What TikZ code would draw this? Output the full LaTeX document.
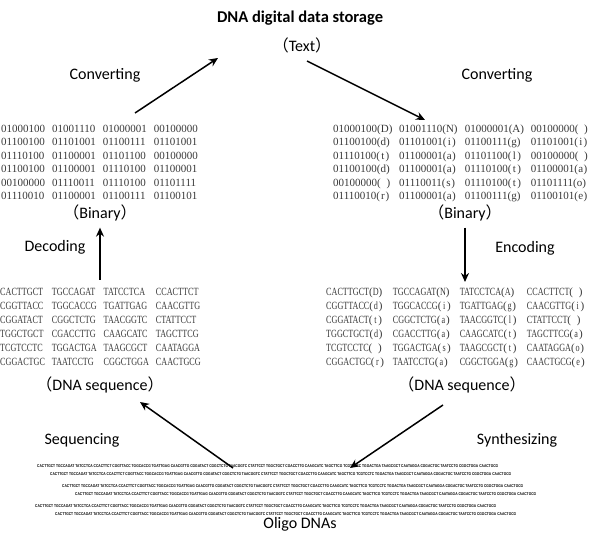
\documentclass[tikz,border=0pt]{standalone}
\usepackage{fontspec}
\setmainfont{Carlito}
\newfontfamily\cjk{Noto Sans CJK SC}
\newfontfamily\bitfont{Liberation Serif}
\newfontfamily\basefont[FakeStretch=0.74]{Liberation Serif}
\newfontfamily\oligofont[FakeStretch=0.8]{Liberation Sans}
\usetikzlibrary{arrows.meta,positioning}
\tikzstyle{head}=[font=\fontsize{16.5}{18}\selectfont\bfseries]
\tikzstyle{lab}=[font=\fontsize{16}{18}\selectfont]
\tikzstyle{bits}=[anchor=north west,inner sep=0pt,text=black!78,font=\bitfont\fontsize{11}{13.4}\selectfont]
\tikzstyle{bases}=[bits,font=\basefont\fontsize{11}{14}\selectfont]
\tikzstyle{oligo}=[anchor=west,inner sep=0pt,font=\oligofont\bfseries\fontsize{4.1}{5}\selectfont]
\tikzstyle{arr}=[-{Stealth[length=9pt,width=8pt]},line width=1.5pt]
\newcommand{\pp}[1]{{\cjk （}#1{\cjk ）}}
\newcommand{\ch}[1]{\makebox[13pt][s]{{\bitfont(}\hfil#1\hfil{\bitfont)}}}
\newcommand{\oligos}{CACTTGCT TGCCAGAT TATCCTCA CCACTTCT CGGTTACC TGGCACCG TGATTGAG CAACGTTG CGGATACT CGGCTCTG TAACGGTC CTATTCCT TGGCTGCT CGACCTTG CAAGCATC TAGCTTCG TCGTCCTC TGGACTGA TAAGCGCT CAATAGGA CGGACTGC TAATCCTG CGGCTGGA CAACTGCG}

\begin{document}
\begin{tikzpicture}[x=1pt,y=-1pt]
\useasboundingbox (0,0) rectangle (603,534);
% top
\node[head] (title) at (300,18) {DNA digital data storage};
\node[lab] (txt) at (302,45) {\pp{Text}};
\node[lab] (convL) at (105,75) {Converting};
\node[lab] (convR) at (497,75) {Converting};
% binary blocks
\node[bits] (binL) at (1,123) {\begin{tabular}{@{}l@{\hspace{7pt}}l@{\hspace{7pt}}l@{\hspace{7pt}}l@{}}
01000100 & 01001110 & 01000001 & 00100000\\
01100100 & 01101001 & 01100111 & 01101001\\
01110100 & 01100001 & 01101100 & 00100000\\
01100100 & 01100001 & 01110100 & 01100001\\
00100000 & 01110011 & 01110100 & 01101111\\
01110010 & 01100001 & 01100111 & 01100101
\end{tabular}};
\node[bits] (binR) at (333,123) {\begin{tabular}{@{}l@{\hspace{9pt}}l@{\hspace{9pt}}l@{\hspace{9pt}}l@{}}
01000100\ch{D} & 01001110\ch{N} & 01000001\ch{A} & 00100000\ch{}\\
01100100\ch{d} & 01101001\ch{i} & 01100111\ch{g} & 01101001\ch{i}\\
01110100\ch{t} & 01100001\ch{a} & 01101100\ch{l} & 00100000\ch{}\\
01100100\ch{d} & 01100001\ch{a} & 01110100\ch{t} & 01100001\ch{a}\\
00100000\ch{} & 01110011\ch{s} & 01110100\ch{t} & 01101111\ch{o}\\
01110010\ch{r} & 01100001\ch{a} & 01100111\ch{g} & 01100101\ch{e}
\end{tabular}};
\node[lab] (binLlab) at (100,213) {\pp{Binary}};
\node[lab] (binRlab) at (465,213) {\pp{Binary}};
\node[lab] (dec) at (55,247) {Decoding};
\node[lab] (enc) at (525,248) {Encoding};
% DNA blocks
\node[bases] (dnaL) at (0,286) {\begin{tabular}{@{}l@{\hspace{7pt}}l@{\hspace{7pt}}l@{\hspace{7pt}}l@{}}
CACTTGCT & TGCCAGAT & TATCCTCA & CCACTTCT\\
CGGTTACC & TGGCACCG & TGATTGAG & CAACGTTG\\
CGGATACT & CGGCTCTG & TAACGGTC & CTATTCCT\\
TGGCTGCT & CGACCTTG & CAAGCATC & TAGCTTCG\\
TCGTCCTC & TGGACTGA & TAAGCGCT & CAATAGGA\\
CGGACTGC & TAATCCTG & CGGCTGGA & CAACTGCG
\end{tabular}};
\node[bases] (dnaR) at (326,286) {\begin{tabular}{@{}l@{\hspace{9pt}}l@{\hspace{9pt}}l@{\hspace{9pt}}l@{}}
CACTTGCT\ch{D} & TGCCAGAT\ch{N} & TATCCTCA\ch{A} & CCACTTCT\ch{}\\
CGGTTACC\ch{d} & TGGCACCG\ch{i} & TGATTGAG\ch{g} & CAACGTTG\ch{i}\\
CGGATACT\ch{t} & CGGCTCTG\ch{a} & TAACGGTC\ch{l} & CTATTCCT\ch{}\\
TGGCTGCT\ch{d} & CGACCTTG\ch{a} & CAAGCATC\ch{t} & TAGCTTCG\ch{a}\\
TCGTCCTC\ch{} & TGGACTGA\ch{s} & TAAGCGCT\ch{t} & CAATAGGA\ch{o}\\
CGGACTGC\ch{r} & TAATCCTG\ch{a} & CGGCTGGA\ch{g} & CAACTGCG\ch{e}
\end{tabular}};
\node[lab] (dnaLlab) at (100,385) {\pp{DNA sequence}};
\node[lab] (dnaRlab) at (462,385) {\pp{DNA sequence}};
\node[lab] (seq) at (82,440) {Sequencing};
\node[lab] (syn) at (517,440) {Synthesizing};
% oligo pool
\foreach \x/\y [count=\i] in {37/466,50/474,62/486,75/494,35/506,55/514}
  \node[oligo] (o\i) at (\x,\y) {\oligos};
\node[lab] (pool) at (300,524) {Oligo DNAs};
% arrows
\coordinate (cl1) at (135,113);
\coordinate (cl2) at (218,58);
\coordinate (cr1) at (307,61);
\coordinate (cr2) at (425,120);
\coordinate (sq1) at (233,468);
\coordinate (sq2) at (140,402);
\coordinate (sy1) at (443,405);
\coordinate (sy2) at (350,468);
\draw[arr] (cl1) -- (cl2);
\draw[arr] (cr1) -- (cr2);
\draw[arr,shorten <=6pt,shorten >=3pt] (binLlab.south |- dnaL.north) -- (binLlab.south);
\draw[arr,shorten <=3pt,shorten >=4pt] (binRlab.south) -- (binRlab.south |- dnaR.north);
\draw[arr] (sq1) -- (sq2);
\draw[arr] (sy1) -- (sy2);
\end{tikzpicture}
\end{document}
